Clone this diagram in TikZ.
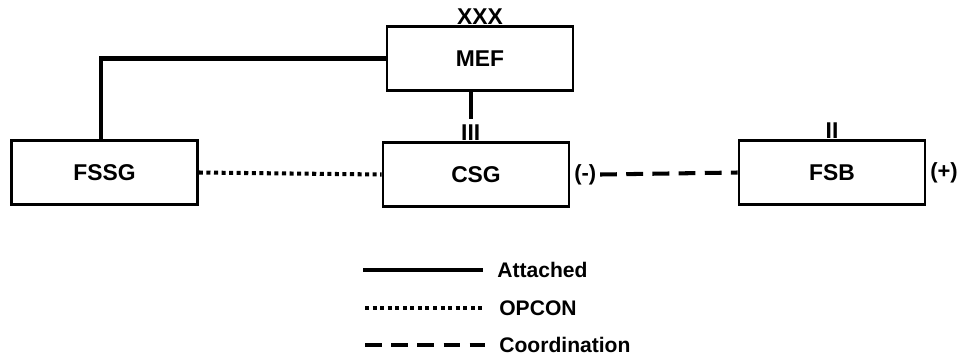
\documentclass[tikz,border=0pt]{standalone}
\usepackage{fontspec}
\setmainfont{Liberation Sans}
\usetikzlibrary{positioning}

\begin{document}
\begin{tikzpicture}[x=0.02cm, y=-0.02cm,
  unit/.style={draw, line width=1.6pt, minimum width=3.72cm, minimum height=1.28cm, font=\fontsize{13}{15}\selectfont\bfseries},
  echelon/.style={inner sep=0pt, font=\fontsize{13}{15}\selectfont\bfseries},
  relation/.style={inner sep=2pt, font=\fontsize{12.5}{14}\selectfont\bfseries},
  legendtext/.style={right, inner sep=0pt, xshift=7pt, font=\fontsize{12}{14}\selectfont\bfseries},
  attached/.style={line width=2.3pt},
  opcon/.style={line width=2.3pt, dash pattern=on 2.3pt off 2pt},
  coordination/.style={line width=2.3pt, dash pattern=on 9.6pt off 5.3pt}]

\useasboundingbox (0,0) rectangle (963,356);

% Draw the units
\node[unit] (mef)  at (480,58.5)  {MEF};
\node[unit] (fssg) at (104.5,172.5) {FSSG};
\node[unit] (csg)  at (476,174.5) {CSG};
\node[unit] (fsb)  at (832,172.5) {FSB};

% echelon marks and relation signs
\node[echelon, anchor=south] (mefech) at (mef.north) {XXX};
\node[echelon, anchor=south] (csgech) at ([xshift=-3]csg.north) {III};
\node[echelon, anchor=south] (fsbech) at (fsb.north) {II};
\node[relation, right=0pt of csg] (csgsign) {(-)};
\node[relation, right=0pt of fsb] (fsbsign) {(+)};

% draw the relations:
\draw[attached] (mef.west) -| ([xshift=-2]fssg.north);
\draw[attached] (mef.south -| csgech) -- ([yshift=3.5pt]csgech.north);
\draw[opcon] (fssg.east) -- (csg.west);
\draw[coordination] (csgsign.east) -- (fsb.west);

% legend
\coordinate (attA) at (363,270);
\coordinate (attB) at (483,270);
\coordinate (opcA) at (365,308);
\coordinate (opcB) at (485,308);
\coordinate (crdA) at (365,345);
\coordinate (crdB) at (485,345);
\draw[attached] (attA) -- (attB) node[legendtext] {Attached};
\draw[opcon] (opcA) -- (opcB) node[legendtext] {OPCON};
\draw[coordination] (crdA) -- (crdB) node[legendtext] {Coordination};
\end{tikzpicture}
\end{document}
